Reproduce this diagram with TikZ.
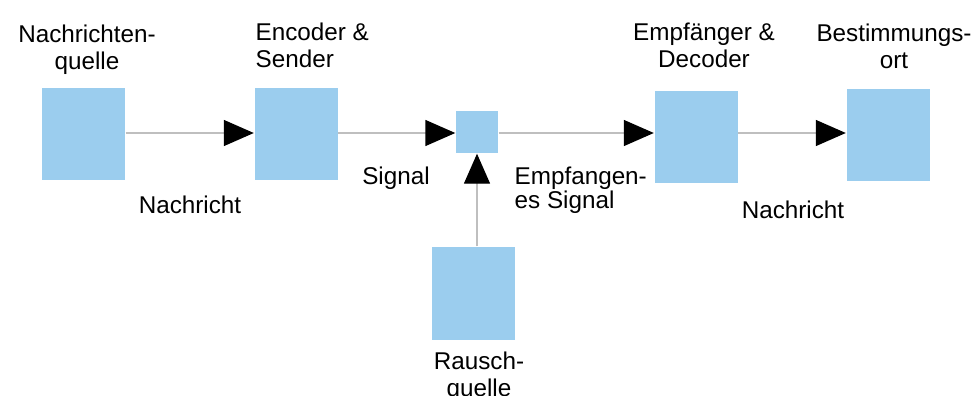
\documentclass[tikz,border=0pt]{standalone}
\usepackage{fontspec}
\setmainfont{Liberation Sans}
\usepackage{tikz}
\usetikzlibrary{arrows.meta}
\definecolor{boxblue}{RGB}{155,205,238}

\begin{document}
\begin{tikzpicture}[font=\fontsize{6.9}{7.7}\selectfont,
  blk/.style={fill=boxblue, minimum width=0.83cm, minimum height=0.92cm, inner sep=0pt},
  lbl/.style={align=center, inner sep=0pt},
  arr/.style={-{Triangle[length=3mm, width=2.6mm, black]}, color=black!25, line width=0.4pt}]
\useasboundingbox (0,0) rectangle (9.76,3.95);
% ---- blocks along the channel
\node[blk] (src) at (0.835,2.61) {};
\node[blk] (enc) at (2.96,2.61) {};
\node[blk, minimum width=0.42cm, minimum height=0.42cm] (mix) at (4.77,2.63) {};
\node[blk] (dec) at (6.96,2.58) {};
\node[blk] (dst) at (8.88,2.60) {};
\node[blk, minimum height=0.93cm] (noise) at (4.73,1.015) {};
% ---- titles
\node[lbl] (tsrc) at (0.87,3.45) {Nachrichten-\\quelle};
\node[lbl, anchor=west, align=left] (tenc) at (2.55,3.50) {Encoder \&\\Sender};
\node[lbl] (tdec) at (7.04,3.50) {Empfänger \&\\Decoder};
\node[lbl] (tdst) at (8.94,3.49) {Bestimmungs-\\ort};
\node[lbl] (tnoise) at (4.79,0.18) {Rausch-\\quelle};
% ---- connectors
\draw[arr] (src.east |- 0,2.62) -- (enc.west |- 0,2.62);
\draw[arr] (enc.east |- 0,2.62) -- (mix.west |- 0,2.62);
\draw[arr] (mix.east |- 0,2.62) -- (dec.west |- 0,2.62);
\draw[arr] (dec.east |- 0,2.62) -- (dst.west |- 0,2.62);
\draw[arr] (noise.north -| mix.south) -- (mix.south);
% ---- signal labels
\node[lbl] (l1) at (1.90,1.90) {Nachricht};
\node[lbl] (l2) at (3.96,2.17) {Signal};
\node[lbl, anchor=west, align=left, font=\fontsize{6.9}{6.9}\selectfont] (l3) at (5.14,2.05) {Empfangen-\\es Signal};
\node[lbl] (l4) at (7.93,1.85) {Nachricht};
\end{tikzpicture}
\end{document}
